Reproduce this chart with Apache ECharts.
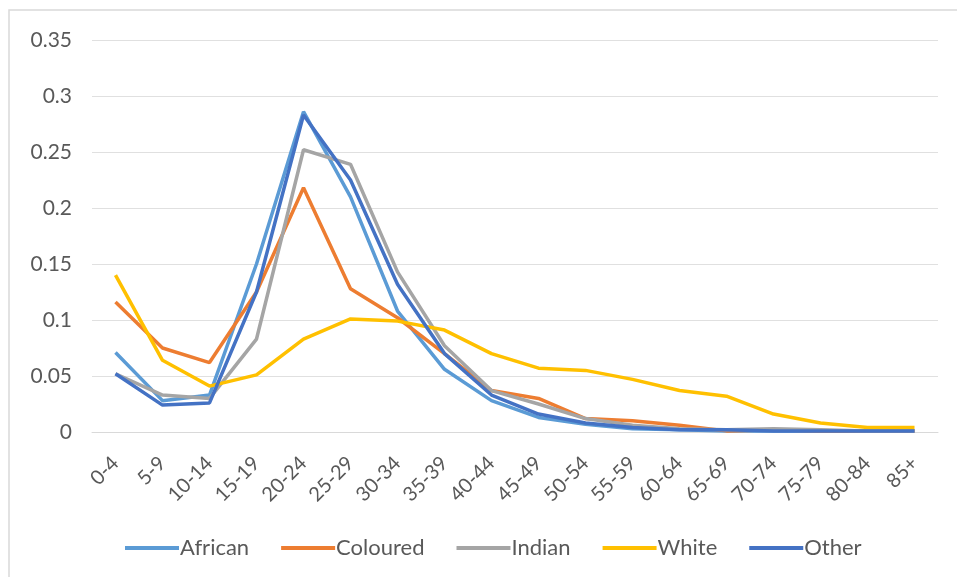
<!DOCTYPE html>
<html>
<head>
<meta charset="utf-8">
<script src="https://cdn.jsdelivr.net/npm/echarts@6/dist/echarts.min.js"></script>
<style>
  html, body { margin: 0; padding: 0; background: #fff; }
  #chart { width: 957px; height: 577px; }
</style>
</head>
<body>
<div id="chart"></div>
<script>
// Age groups along the x axis
var ageGroups = ['0-4','5-9','10-14','15-19','20-24','25-29','30-34','35-39','40-44','45-49',
                 '50-54','55-59','60-64','65-69','70-74','75-79','80-84','85+'];

// Share of each population group per age band
var african  = [0.071,0.028,0.033,0.150,0.286,0.210,0.108,0.056,0.028,0.013,0.007,0.003,0.002,0.001,0.001,0.001,0.001,0.001];
var coloured = [0.116,0.075,0.062,0.125,0.218,0.128,0.102,0.070,0.037,0.030,0.012,0.010,0.006,0.001,0.002,0.001,0.001,0.001];
var indian   = [0.052,0.033,0.030,0.083,0.252,0.239,0.143,0.077,0.037,0.025,0.012,0.006,0.003,0.002,0.003,0.002,0.001,0.001];
var white    = [0.140,0.064,0.041,0.051,0.083,0.101,0.099,0.091,0.070,0.057,0.055,0.047,0.037,0.032,0.016,0.008,0.004,0.004];
var other    = [0.052,0.024,0.026,0.125,0.283,0.225,0.132,0.070,0.033,0.016,0.008,0.004,0.002,0.002,0.001,0.001,0.001,0.001];

var seriesNames  = ['African','Coloured','Indian','White','Other'];
var seriesData   = [african, coloured, indian, white, other];
var seriesColors = ['#5B9BD5','#ED7D31','#A5A5A5','#FFC000','#4472C4'];

// y-axis tick labels
var yTicks = ['0','0.05','0.1','0.15','0.2','0.25','0.3','0.35'];

var font = 'Lato, "Open Sans", sans-serif';

var chart = echarts.init(document.getElementById('chart'), null, { renderer: 'canvas' });

chart.setOption({
  animation: false,
  backgroundColor: '#ffffff',
  graphic: [{
    type: 'rect',
    shape: { x: 9, y: 10, width: 960, height: 580 },
    style: { fill: 'none', stroke: '#d9d9d9', lineWidth: 1.5 },
    silent: true,
    z: -1
  }],
  grid: { left: 92, right: 19, top: 40, bottom: 145, containLabel: false },
  legend: {
    top: 532,
    left: 120,
    itemWidth: 54,
    itemHeight: 4,
    itemGap: 32,
    icon: 'rect',
    textStyle: { color: '#595959', fontSize: 22, fontFamily: font, padding: [0, 0, 0, -4] },
    data: seriesNames
  },
  xAxis: {
    type: 'category',
    data: ageGroups,
    boundaryGap: true,
    axisLine: { show: true, lineStyle: { color: '#d9d9d9', width: 1 } },
    axisTick: { show: false },
    axisLabel: { rotate: 45, color: '#595959', fontSize: 20, fontFamily: font, margin: 28, interval: 0 }
  },
  yAxis: {
    type: 'value',
    min: 0,
    max: 0.35,
    interval: 0.05,
    axisLine: { show: false },
    axisTick: { show: false },
    splitLine: { lineStyle: { color: '#e0e0e0', width: 1 } },
    axisLabel: {
      color: '#595959', fontSize: 21, fontFamily: font, margin: 20,
      formatter: function (v) { return yTicks[Math.round(v / 0.05)]; }
    }
  },
  series: seriesNames.map(function (name, i) {
    return {
      name: name,
      type: 'line',
      data: seriesData[i],
      symbol: 'none',
      smooth: false,
      lineStyle: { color: seriesColors[i], width: 3.5 },
      itemStyle: { color: seriesColors[i] }
    };
  })
});
</script>
</body>
</html>
